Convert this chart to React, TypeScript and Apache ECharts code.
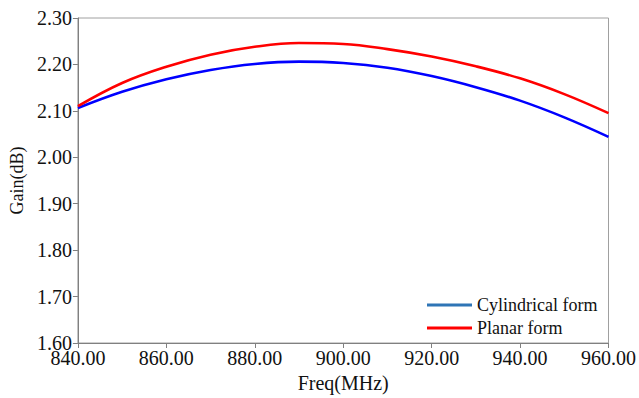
import React, { useEffect, useRef } from "react";
import * as echarts from "echarts";

const freqs = [840, 850, 860, 870, 880, 890, 900, 910, 920, 930, 940, 950, 960];
const cylindrical = [2.106, 2.141, 2.168, 2.188, 2.201, 2.206, 2.203, 2.193, 2.175, 2.151, 2.122, 2.086, 2.044];
const planar = [2.110, 2.160, 2.195, 2.221, 2.238, 2.246, 2.244, 2.233, 2.217, 2.196, 2.170, 2.136, 2.095];
const seriesNames = ["Cylindrical form", "Planar form"];

const FONT = "serif";

export default function App() {
  const ref = useRef<HTMLDivElement>(null);
  useEffect(() => {
    if (!ref.current) return;
    const chart = echarts.init(ref.current, undefined, { renderer: "svg" });
    const axisLine = { show: true, lineStyle: { color: "#808080", width: 1 } };
    chart.setOption({
      animation: false,
      backgroundColor: "#ffffff",
      textStyle: { fontFamily: FONT },
      grid: {
        left: 76,
        top: 18,
        right: 30,
        bottom: 54,
        show: true,
        borderColor: "#a0a0a0",
        borderWidth: 1,
      },
      legend: {
        orient: "vertical",
        left: 422,
        top: 291,
        itemWidth: 45,
        itemHeight: 3,
        itemGap: 5,
        icon: "rect",
        textStyle: { fontFamily: FONT, fontSize: 18, color: "#111" },
        data: [
          { name: seriesNames[0], itemStyle: { color: "#2e75b6" } },
          { name: seriesNames[1], itemStyle: { color: "#ff0000" } },
        ],
      },
      xAxis: {
        type: "value",
        min: 840,
        max: 960,
        interval: 20,
        name: "Freq(MHz)",
        nameLocation: "middle",
        nameGap: 30,
        nameTextStyle: { fontFamily: FONT, fontSize: 20, color: "#111" },
        axisLine,
        axisTick: { show: true, length: 5, lineStyle: { color: "#808080" } },
        splitLine: { show: false },
        axisLabel: {
          fontFamily: FONT,
          fontSize: 20,
          color: "#111",
          margin: 5,
          formatter: (v: number) => v.toFixed(2),
        },
      },
      yAxis: {
        type: "value",
        min: 1.6,
        max: 2.3,
        interval: 0.1,
        name: "Gain(dB)",
        nameLocation: "middle",
        nameGap: 50,
        nameTextStyle: { fontFamily: FONT, fontSize: 18, color: "#111" },
        axisLine,
        axisTick: { show: true, length: 5, lineStyle: { color: "#808080" } },
        splitLine: { show: false },
        axisLabel: {
          fontFamily: FONT,
          fontSize: 20,
          color: "#111",
          margin: 6,
          formatter: (v: number) => v.toFixed(2),
        },
      },
      series: [
        {
          name: seriesNames[0],
          type: "line",
          smooth: 0.4,
          showSymbol: false,
          data: freqs.map((f, i) => [f, cylindrical[i]]),
          lineStyle: { color: "#0000ff", width: 2.6 },
          itemStyle: { color: "#0000ff" },
        },
        {
          name: seriesNames[1],
          type: "line",
          smooth: 0.4,
          showSymbol: false,
          data: freqs.map((f, i) => [f, planar[i]]),
          lineStyle: { color: "#ff0000", width: 2.6 },
          itemStyle: { color: "#ff0000" },
        },
      ],
    });
    return () => chart.dispose();
  }, []);
  return <div ref={ref} style={{ width: 639, height: 398, position: "absolute", left: 0, top: 0 }} />;
}
